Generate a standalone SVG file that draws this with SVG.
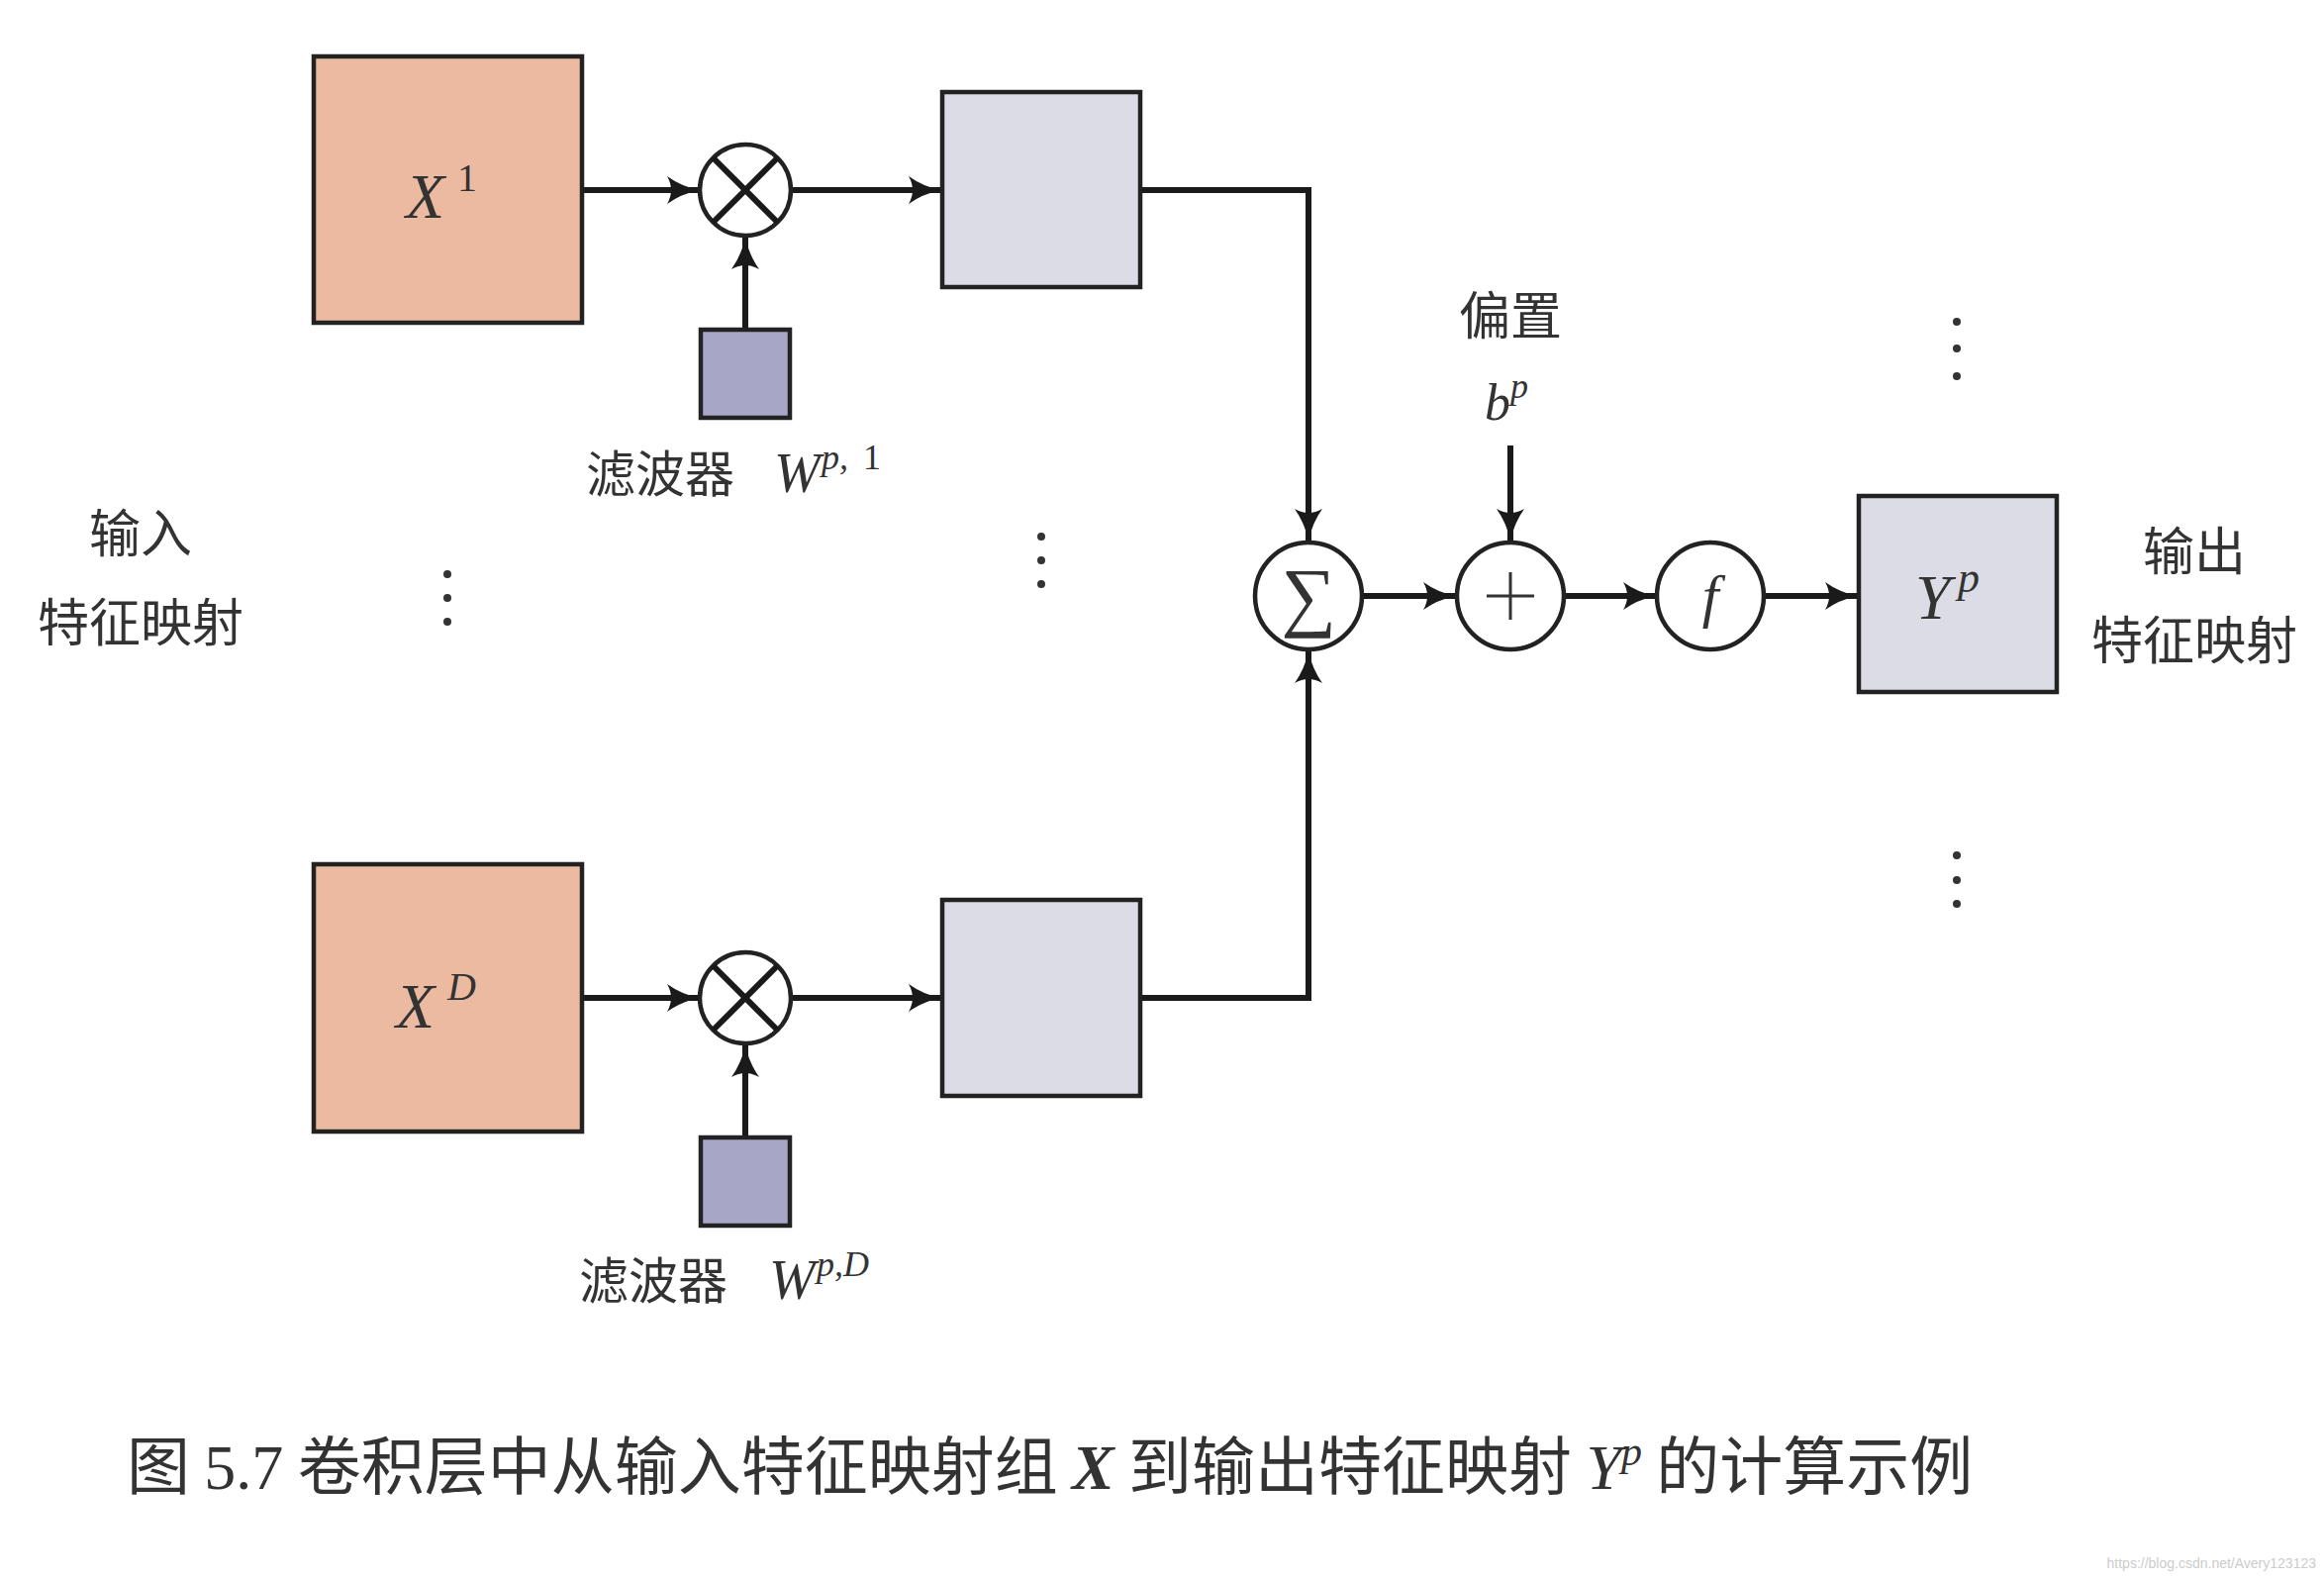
<svg xmlns="http://www.w3.org/2000/svg" width="2348" height="1596" viewBox="0 0 2348 1596">
<style>
.box{stroke:#222;stroke-width:4.5}
.in{fill:#ebbaa1}.mid{fill:#dcdce6}.flt{fill:#a8a6c6}
.c{fill:#fff;stroke:#222;stroke-width:4.5}
.ln{fill:none;stroke:#1a1a1a;stroke-width:6}
.cj{font-family:"Noto Sans CJK SC","Noto Serif CJK SC",serif;fill:#333}
.m{font-family:"Liberation Serif",serif;font-style:italic;fill:#333}
.d{fill:#333}
</style>
<defs>
<marker id="a" markerUnits="userSpaceOnUse" markerWidth="40" markerHeight="40" refX="36" refY="20" orient="auto">
<path d="M4,6 Q18,16 36,20 Q18,24 4,34 Q12,20 4,6Z" fill="#1a1a1a"/>
</marker>
</defs>
<rect width="2348" height="1596" fill="#fff"/>
<g id="connectors">
<line class="ln" x1="590" y1="192" x2="706" y2="192" marker-end="url(#a)"/>
<line class="ln" x1="799" y1="192" x2="950" y2="192" marker-end="url(#a)"/>
<line class="ln" x1="753" y1="331" x2="753" y2="240" marker-end="url(#a)"/>
<polyline class="ln" points="1152,192 1322,192 1322,546" marker-end="url(#a)"/>
<line class="ln" x1="590" y1="1008" x2="706" y2="1008" marker-end="url(#a)"/>
<line class="ln" x1="799" y1="1008" x2="950" y2="1008" marker-end="url(#a)"/>
<line class="ln" x1="753" y1="1147" x2="753" y2="1056" marker-end="url(#a)"/>
<polyline class="ln" points="1152,1008 1322,1008 1322,658" marker-end="url(#a)"/>
<line class="ln" x1="1377" y1="602" x2="1470" y2="602" marker-end="url(#a)"/>
<line class="ln" x1="1581" y1="602" x2="1672" y2="602" marker-end="url(#a)"/>
<line class="ln" x1="1783" y1="602" x2="1876" y2="602" marker-end="url(#a)"/>
<line class="ln" x1="1526" y1="450" x2="1526" y2="546" marker-end="url(#a)"/>
</g>
<g id="X1"><rect class="box in" x="317" y="57" width="271" height="269"/><text class="m" x="410" y="220" font-size="64">X</text><text x="462" y="193" font-size="40" font-family="Liberation Serif,serif" fill="#333">1</text></g>
<g id="mul1"><circle class="c" cx="753" cy="192" r="46"/><path class="ln" stroke-width="4" d="M720.5,159.5L785.5,224.5M785.5,159.5L720.5,224.5"/></g>
<g id="W1"><rect class="box flt" x="708" y="333" width="90" height="89"/></g>
<g id="F1"><rect class="box mid" x="952" y="93" width="200" height="197"/></g>
<g id="XD"><rect class="box in" x="317" y="873" width="271" height="270"/><text class="m" x="400" y="1038" font-size="64">X</text><text class="m" x="452" y="1010" font-size="40">D</text></g>
<g id="mulD"><circle class="c" cx="753" cy="1008" r="46"/><path class="ln" stroke-width="4" d="M720.5,975.5L785.5,1040.5M785.5,975.5L720.5,1040.5"/></g>
<g id="WD"><rect class="box flt" x="708" y="1149" width="90" height="89"/></g>
<g id="FD"><rect class="box mid" x="952" y="909" width="200" height="198"/></g>
<g id="sum"><circle class="c" cx="1322" cy="602" r="54"/><text x="1322" y="628" font-size="78" text-anchor="middle" font-family="Liberation Serif,serif" fill="#333">∑</text></g>
<g id="plus"><circle class="c" cx="1526" cy="602" r="54"/><path stroke="#333" stroke-width="3" d="M1526,578V626M1502,602H1550"/></g>
<g id="f"><circle class="c" cx="1728" cy="602" r="54"/><text class="m" x="1728" y="622" font-size="60" text-anchor="middle">f</text></g>
<g id="Y"><rect class="box mid" x="1878" y="501" width="200" height="198"/><text class="m" x="1935" y="625" font-size="64">Y</text><text class="m" x="1978" y="598" font-size="44">p</text></g>
<g id="labels">
<text class="cj" x="592" y="497" font-size="50">滤波器</text><text class="m" x="782" y="497" font-size="56">W</text><text class="m" x="830" y="474" font-size="36">p,</text><text x="872" y="474" font-size="36" font-family="Liberation Serif,serif" fill="#333">1</text>
<text class="cj" x="585" y="1312" font-size="50">滤波器</text><text class="m" x="777" y="1312" font-size="56">W</text><text class="m" x="825" y="1289" font-size="36">p,D</text>
<text class="cj" x="142" y="558" font-size="52" text-anchor="middle">输入</text>
<text class="cj" x="142" y="648" font-size="52" text-anchor="middle">特征映射</text>
<text class="cj" x="1526" y="338" font-size="52" text-anchor="middle">偏置</text>
<text class="m" x="1500" y="424" font-size="52">b</text><text class="m" x="1526" y="402" font-size="36">p</text>
<text class="cj" x="2217" y="576" font-size="52" text-anchor="middle">输出</text>
<text class="cj" x="2217" y="666" font-size="52" text-anchor="middle">特征映射</text>
<text class="cj" x="128" y="1504" font-size="64">图 <tspan font-family="Liberation Serif,serif">5.7</tspan> 卷积层中从输入特征映射组 <tspan font-family="Liberation Serif,serif" font-weight="bold" font-style="italic">X</tspan> 到输出特征映射 <tspan font-family="Liberation Serif,serif" font-style="italic">Y</tspan><tspan font-family="Liberation Serif,serif" font-style="italic" font-size="42" dy="-24">p</tspan><tspan dy="24"> 的计算示例</tspan></text>
<text x="2340" y="1584" font-size="14" text-anchor="end" font-family="Liberation Sans,sans-serif" fill="#ccc">https://blog.csdn.net/Avery123123</text>
</g>
<g id="dots" class="d">
<circle cx="452" cy="580" r="4"/><circle cx="452" cy="604" r="4"/><circle cx="452" cy="628" r="4"/>
<circle cx="1052" cy="542" r="4"/><circle cx="1052" cy="566" r="4"/><circle cx="1052" cy="590" r="4"/>
<circle cx="1977" cy="325" r="4"/><circle cx="1977" cy="352" r="4"/><circle cx="1977" cy="380" r="4"/>
<circle cx="1977" cy="864" r="4"/><circle cx="1977" cy="889" r="4"/><circle cx="1977" cy="913" r="4"/>
</g>
</svg>
